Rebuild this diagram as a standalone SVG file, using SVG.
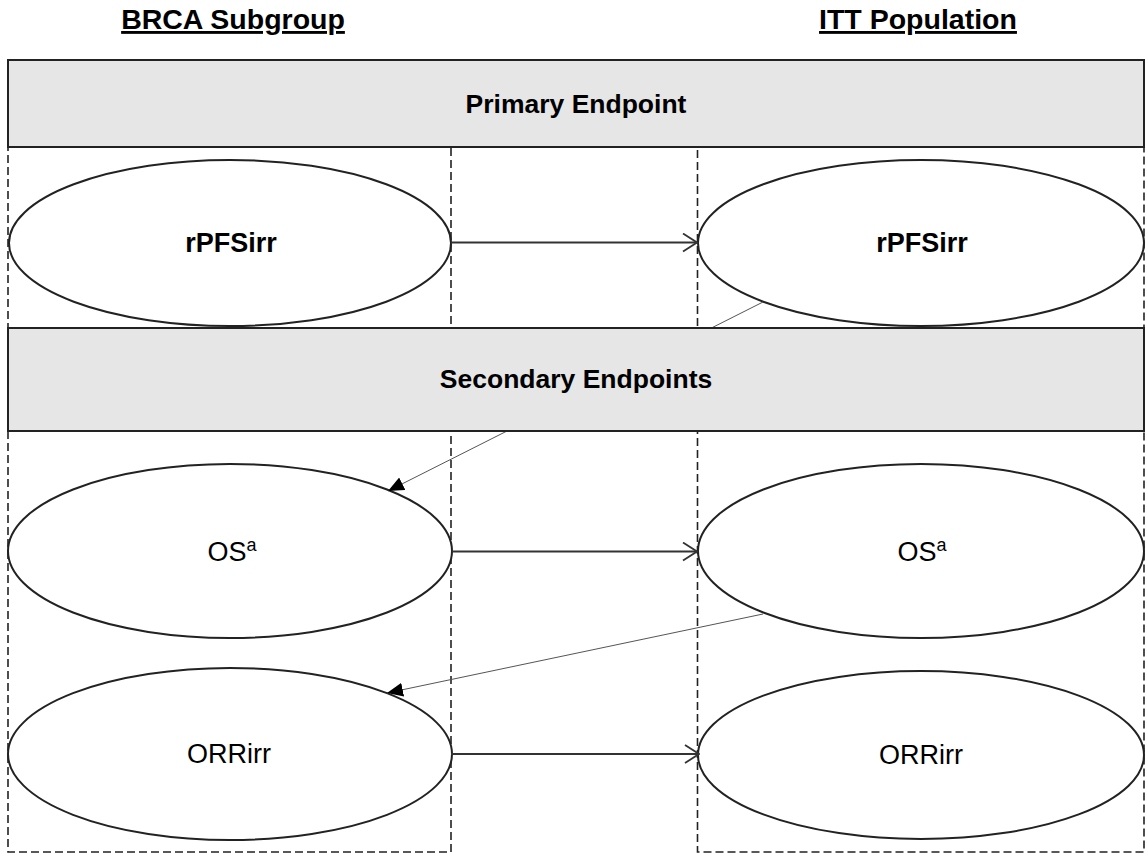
<svg xmlns="http://www.w3.org/2000/svg" width="1147" height="854" viewBox="0 0 1147 854">
<defs>
<style>
.bg{fill:#ffffff}
.dash{fill:none;stroke:#222;stroke-width:1.6;stroke-dasharray:8,4}
.band{fill:#e6e6e6;stroke:#222;stroke-width:2}
.node{fill:#ffffff;stroke:#222;stroke-width:2}
.hdr{font-family:"Liberation Sans",Arial,sans-serif;font-weight:bold;font-size:28.5px;fill:#000;text-anchor:middle;text-decoration:underline}
.bt{font-family:"Liberation Sans",Arial,sans-serif;font-weight:bold;font-size:26.5px;fill:#000;text-anchor:middle}
.nt{font-family:"Liberation Sans",Arial,sans-serif;font-size:27px;fill:#000;text-anchor:middle}
.ntb{font-family:"Liberation Sans",Arial,sans-serif;font-weight:bold;font-size:27px;fill:#000;text-anchor:middle}
.h{fill:none;stroke:#333;stroke-width:1.8}
.d{fill:none;stroke:#555;stroke-width:1}
</style>
<marker id="open" viewBox="0 0 16 20" refX="15" refY="10" markerWidth="16" markerHeight="20" markerUnits="userSpaceOnUse" orient="auto">
<path d="M1,1 L15,10 L1,19" fill="none" stroke="#333" stroke-width="1.8"/>
</marker>
<marker id="filled" viewBox="0 0 16 14" refX="16" refY="7" markerWidth="16" markerHeight="14" markerUnits="userSpaceOnUse" orient="auto">
<path d="M0,0 L16,7 L0,14 Z" fill="#000"/>
</marker>
</defs>
<rect class="bg" x="0" y="0" width="1147" height="854"/>

<g id="headers">
<text class="hdr" x="233" y="29">BRCA Subgroup</text>
<text class="hdr" x="918" y="29">ITT Population</text>
</g>

<g id="columns">
<rect class="dash" x="8" y="147" width="443" height="705"/>
<rect class="dash" x="697.5" y="147" width="446.5" height="705"/>
</g>

<g id="node-brca-rpfs">
<ellipse class="node" cx="230" cy="243" rx="221" ry="83"/>
<text class="ntb" x="231" y="252">rPFSirr</text>
</g>
<g id="node-itt-rpfs">
<ellipse class="node" cx="921" cy="243" rx="223" ry="83"/>
<text class="ntb" x="922" y="252">rPFSirr</text>
</g>
<g id="node-brca-os">
<ellipse class="node" cx="230" cy="551" rx="222" ry="87"/>
<text class="nt" x="232" y="561">OS<tspan font-size="18" dy="-10">a</tspan></text>
</g>
<g id="node-itt-os">
<ellipse class="node" cx="921" cy="551" rx="223" ry="87"/>
<text class="nt" x="922" y="561">OS<tspan font-size="18" dy="-10">a</tspan></text>
</g>
<g id="node-brca-orr">
<ellipse class="node" cx="230" cy="754" rx="222" ry="86"/>
<text class="nt" x="229" y="763" font-size="28">ORRirr</text>
</g>
<g id="node-itt-orr">
<ellipse class="node" cx="921" cy="755" rx="223" ry="84"/>
<text class="nt" x="921" y="764" font-size="28">ORRirr</text>
</g>

<g id="connectors">
<line class="h" x1="451" y1="242.5" x2="697" y2="242.5" marker-end="url(#open)"/>
<line class="h" x1="452" y1="551.5" x2="697" y2="551.5" marker-end="url(#open)"/>
<line class="h" x1="451" y1="754" x2="699" y2="754" marker-end="url(#open)"/>
<line class="d" x1="763" y1="302" x2="388" y2="491" marker-end="url(#filled)"/>
<line class="d" x1="763" y1="614" x2="387" y2="693" marker-end="url(#filled)"/>
</g>

<g id="band-primary">
<rect class="band" x="8" y="60" width="1136" height="87"/>
<text class="bt" x="576" y="113">Primary Endpoint</text>
</g>
<g id="band-secondary">
<rect class="band" x="8" y="328" width="1136" height="103"/>
<text class="bt" x="576" y="388">Secondary Endpoints</text>
</g>
</svg>
